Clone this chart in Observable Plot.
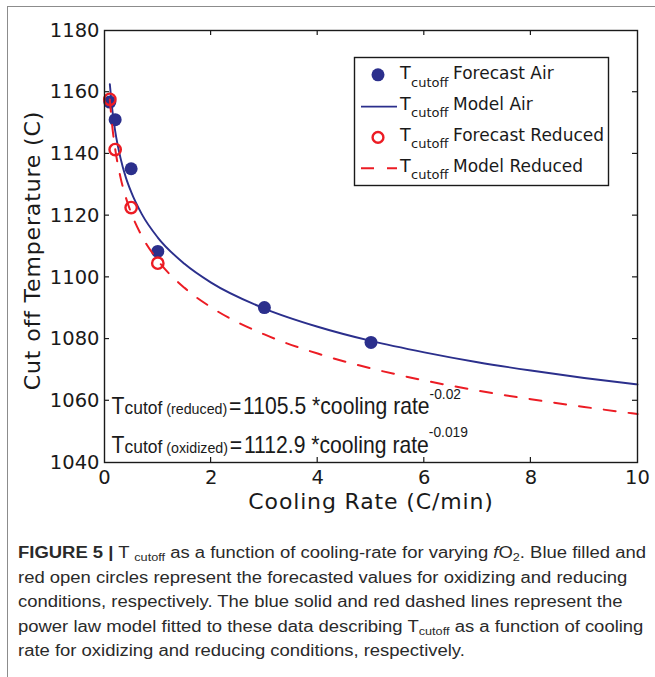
<!DOCTYPE html>
<html><head><meta charset="utf-8">
<script src="https://cdn.jsdelivr.net/npm/d3@7"></script>
<script src="https://cdn.jsdelivr.net/npm/@observablehq/plot@0.6"></script>
<style>
html,body{margin:0;padding:0;background:#fff;}
#wrap{position:relative;width:655px;height:677px;overflow:hidden;background:#fff;}
#frame{position:absolute;left:7px;top:6px;width:700px;height:700px;border-left:1.5px solid #8c8c8c;border-top:1.5px solid #8c8c8c;}
#chart{position:absolute;left:0;top:0;}
#caption{position:absolute;left:18px;top:541px;font-family:"Liberation Sans",Arial,sans-serif;font-size:16px;line-height:24.5px;color:#2a2a2a;white-space:nowrap;transform-origin:0 0;}
#caption sub{font-size:11px;vertical-align:-3px;line-height:0;}
#caption b{font-weight:bold;}
</style></head><body>
<div id="wrap"><div id="frame"></div><div id="chart"></div>
<div id="caption">
<div class="ln"><b>FIGURE 5 |</b> T <sub>cutoff</sub> as a function of cooling-rate for varying <i>f</i>O<sub>2</sub>. Blue filled and</div>
<div class="ln">red open circles represent the forecasted values for oxidizing and reducing</div>
<div class="ln">conditions, respectively. The blue solid and red dashed lines represent the</div>
<div class="ln">power law model fitted to these data describing T<sub>cutoff</sub> as a function of cooling</div>
<div class="ln">rate for oxidizing and reducing conditions, respectively.</div>
</div>
</div>
<script>
// ---- data ----
const rateAir = [0.1, 0.2, 0.5, 1, 3, 5];
const forecastAir = [1156.8, 1151.1, 1135.2, 1108.4, 1090.2, 1078.9];
const rateReduced = [0.1, 0.2, 0.5, 1];
const forecastReduced = [1157.7, 1141.4, 1122.6, 1104.6];
const modelRate = [0.1, 0.15, 0.2, 0.3, 0.4, 0.5, 0.7, 1, 1.5, 2, 3, 4, 5, 6, 7, 8, 9, 10];
const modelAir = [1162.6, 1153.8, 1147.5, 1138.7, 1132.4, 1127.7, 1120.5, 1112.9, 1104.4, 1098.3, 1089.9, 1084.0, 1079.4, 1075.7, 1072.5, 1069.8, 1067.4, 1065.3];
const modelReduced = [1157.6, 1148.3, 1141.7, 1132.4, 1125.9, 1120.9, 1113.4, 1105.5, 1096.6, 1090.3, 1081.5, 1075.3, 1070.5, 1066.6, 1063.3, 1060.5, 1058.0, 1055.7];
const xTicks = [0, 2, 4, 6, 8, 10];
const yTicks = [1040, 1060, 1080, 1100, 1120, 1140, 1160, 1180];
const xLabel = "Cooling Rate (C/min)";
const yLabel = "Cut off Temperature (C)";
const legendLabels = ["Forecast Air", "Model Air", "Forecast Reduced", "Model Reduced"];
const eqReduced = {cond: "(reduced)", coef: "1105.5", exp: "-0.02"};
const eqOxidized = {cond: "(oxidized)", coef: "1112.9", exp: "-0.019"};

const BLUE = "#2b2f8c", RED = "#ec1c24", INK = "#1a1a1a";

const airPts = rateAir.map((r, i) => ({rate: r, t: forecastAir[i]}));
const redPts = rateReduced.map((r, i) => ({rate: r, t: forecastReduced[i]}));
const modelRows = modelRate.map((r, i) => ({rate: r, air: modelAir[i], red: modelReduced[i]}));

const plot = Plot.plot({
  width: 655, height: 515,
  marginLeft: 104, marginRight: 18, marginTop: 30, marginBottom: 53,
  style: {fontFamily: "'DejaVu Sans', Verdana, sans-serif", fontSize: "19.5px", color: INK, background: "transparent", overflow: "visible"},
  x: {domain: [0, 10], ticks: xTicks},
  y: {domain: [1040, 1180], ticks: yTicks},
  marks: [
    Plot.dot(airPts, {x: "rate", y: "t", r: 6.5, fill: BLUE, stroke: "none"}),
    Plot.line(modelRows, {x: "rate", y: "air", stroke: BLUE, strokeWidth: 1.9, curve: "monotone-x"}),
    Plot.dot(redPts, {x: "rate", y: "t", r: 5.7, fill: "none", stroke: RED, strokeWidth: 2.4}),
    Plot.line(modelRows, {x: "rate", y: "red", stroke: RED, strokeWidth: 2, strokeDasharray: "12,13", curve: "monotone-x"}),
    Plot.frame({stroke: INK, strokeWidth: 1.4}),
    Plot.axisX({ticks: xTicks, tickSize: 0, tickPadding: 8, label: null, tickFormat: d3.format("d")}),
    Plot.axisY({ticks: yTicks, tickSize: 0, tickPadding: 5, label: null, tickFormat: d3.format("d")}),
    Plot.text([xLabel], {text: d => d, frameAnchor: "bottom", textAnchor: "middle", lineAnchor: "middle", dy: 39, fontSize: 22}),
    Plot.text([yLabel], {text: d => d, frameAnchor: "left", textAnchor: "middle", lineAnchor: "middle", rotate: -90, dx: -72, dy: 4, fontSize: 22})
  ]
});
document.getElementById("chart").appendChild(plot);

const svg = d3.select(plot);
svg.selectAll("text").filter(function () { return this.textContent === xLabel || this.textContent === yLabel; })
  .style("letter-spacing", "0.85px");
const sx = plot.scale("x"), sy = plot.scale("y");
const x0 = sx.range[0], x1 = sx.range[1], yb = sy.range[0], yt = sy.range[1];
const tk = svg.append("g").attr("stroke", INK).attr("stroke-width", 1.2);
for (const v of xTicks.slice(1, -1)) {
  const px = sx.apply(v);
  tk.append("line").attr("x1", px).attr("x2", px).attr("y1", yb).attr("y2", yb - 5);
  tk.append("line").attr("x1", px).attr("x2", px).attr("y1", yt).attr("y2", yt + 5);
}
for (const v of yTicks.slice(1, -1)) {
  const py = sy.apply(v);
  tk.append("line").attr("x1", x0).attr("x2", x0 + 5).attr("y1", py).attr("y2", py);
  tk.append("line").attr("x1", x1).attr("x2", x1 - 5).attr("y1", py).attr("y2", py);
}

// legend
const lg = svg.append("g").attr("font-family", "'DejaVu Sans', Verdana, sans-serif").attr("fill", INK).attr("text-anchor", "start");
lg.append("rect").attr("x", 354.5).attr("y", 57.5).attr("width", 254).attr("height", 128)
  .attr("fill", "#fff").attr("stroke", INK).attr("stroke-width", 1.4);
const rowsY = [79.3, 110.1, 140.9, 171.7];
lg.append("circle").attr("cx", 378).attr("cy", rowsY[0] - 4.5).attr("r", 6.5).attr("fill", BLUE);
lg.append("line").attr("x1", 361).attr("x2", 397).attr("y1", rowsY[1] - 3.5).attr("y2", rowsY[1] - 3.5).attr("stroke", BLUE).attr("stroke-width", 1.9);
lg.append("circle").attr("cx", 378).attr("cy", rowsY[2] - 3.5).attr("r", 5.4).attr("fill", "none").attr("stroke", RED).attr("stroke-width", 2.4);
lg.append("line").attr("x1", 361).attr("x2", 397).attr("y1", rowsY[3] - 3.5).attr("y2", rowsY[3] - 3.5).attr("stroke", RED).attr("stroke-width", 2).attr("stroke-dasharray", "13,13");
legendLabels.forEach((lab, i) => {
  const t = lg.append("text").attr("x", 400).attr("y", rowsY[i]).attr("font-size", 17.5);
  t.append("tspan").text("T");
  t.append("tspan").attr("x", 411).attr("dy", 7.3).attr("font-size", 13).text("cutoff");
  t.append("tspan").attr("x", 453).attr("dy", -7.3).attr("font-size", 17).text(lab);
});

// equations: one text per line, condensed by a horizontal scale
const eqg = svg.append("g").attr("font-family", "'Liberation Sans', Arial, sans-serif").attr("fill", INK).attr("text-anchor", "start");
function eq(e, base) {
  const g = eqg.append("g").attr("transform", `translate(111.5,${base}) scale(0.92,1)`);
  const t = g.append("text").attr("x", 0).attr("y", 0).attr("font-size", 23);
  t.append("tspan").text("T");
  t.append("tspan").attr("font-size", 19).text("cutof");
  t.append("tspan").attr("font-size", 15.5).text("\u00a0" + e.cond);
  t.append("tspan").text("\u200a=\u200a" + e.coef + " *cooling rate");
  t.append("tspan").attr("font-size", 15).attr("dy", -15.5).text(e.exp);
}
eq(eqReduced, 414);
eq(eqOxidized, 452.5);

// caption fit
const cap = document.getElementById("caption");
const first = cap.querySelector(".ln");
const range = document.createRange(); range.selectNodeContents(first);
const tw = range.getBoundingClientRect().width;
cap.style.transform = `scaleX(${628 / tw})`;
</script>
</body></html>
